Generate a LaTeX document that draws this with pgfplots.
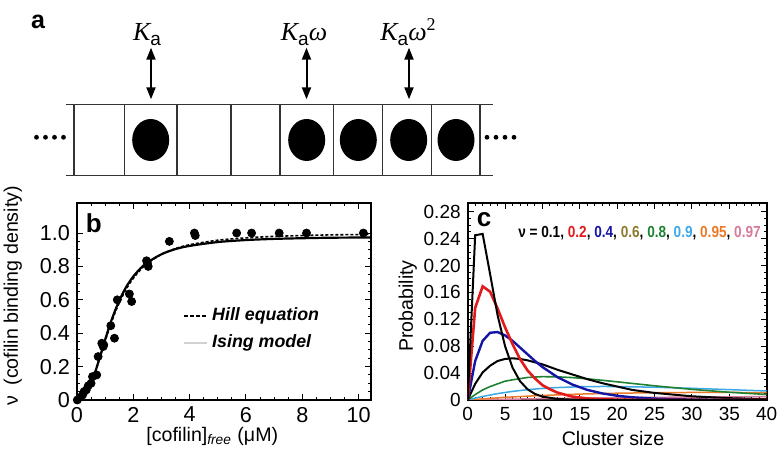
\documentclass[border=0pt]{standalone}
\usepackage{pgfplots}
\pgfplotsset{compat=1.18}
\usepackage{fontspec}
\setmainfont{Liberation Sans}
\newfontfamily\tnr{Liberation Serif}
\usetikzlibrary{arrows.meta}
\definecolor{cred}{HTML}{E31A1C}
\definecolor{cblue}{HTML}{1414A6}
\definecolor{colive}{HTML}{8C7A2E}
\definecolor{cgreen}{HTML}{1E8232}
\definecolor{ccyan}{HTML}{3CA8E6}
\definecolor{corange}{HTML}{EB7A28}
\definecolor{cpink}{HTML}{D77A9B}

\pgfplotsset{
  panel/.style={
    anchor=south west, scale only axis,
    tick align=inside, major tick length=3pt, minor tick length=1.5pt,
    tick style={black, line width=0.5pt},
    axis line style={line width=0.8pt},
    label style={font=\fontsize{9.8}{11}\selectfont},
  },
}

\begin{document}
\begin{tikzpicture}
\path[use as bounding box] (0,0) rectangle (391pt,229.5pt);

% panel a: lattice sketch (1 unit = 1 px of the reference)
\begin{scope}[x=0.5pt,y=0.5pt]
\node[font=\bfseries\fontsize{12.5}{14}\selectfont] at (38,437) {a};
\draw[line width=0.75pt, black!80] (65.7,354.7) -- (493.3,354.7);
\draw[line width=0.75pt, black!80] (65.7,283.3) -- (493.3,283.3);
\foreach \x in {74,124.3,177,231,280,333.3,382.3,431.7,480}
  \draw[line width=0.75pt, black!80] (\x,283.3) -- (\x,354.7);
\foreach \x in {150.7,306.7,358.3,408.7,456}
  \fill (\x,319) ellipse [x radius=18.5, y radius=21];
\foreach \x in {36.5,45.5,54.5,63.5,487,496,505,514}
  \fill (\x,321.7) circle [radius=2.4];
\foreach \x in {151,306.5,409}
  \draw[line width=1pt, {Triangle[length=6pt,width=4.5pt]}-{Triangle[length=6pt,width=4.5pt]}] (\x,359.7) -- (\x,411.3);
\node[anchor=base, font=\fontsize{13}{15}\selectfont] at (147,418)
  {{\tnr\itshape K}\raisebox{-0.3ex}{\fontsize{9.5}{10}\selectfont a}};
\node[anchor=base, font=\fontsize{13}{15}\selectfont] at (304,418)
  {{\tnr\itshape K}\raisebox{-0.3ex}{\fontsize{9.5}{10}\selectfont a}{\tnr\itshape ω}};
\node[anchor=base, font=\fontsize{13}{15}\selectfont] at (408,418)
  {{\tnr\itshape K}\raisebox{-0.3ex}{\fontsize{9.5}{10}\selectfont a}{\tnr\itshape ω}\raisebox{0.75ex}{\fontsize{9}{10}\selectfont\tnr 2}};
\end{scope}

% panel b
\begin{axis}[panel,
  at={(38.5pt,29.5pt)}, width=147pt, height=98.5pt,
  xmin=0, xmax=10.44, ymin=0, ymax=1.18,
  xtick={0,2,4,6,8,10}, xticklabels={0,2,4,6,8,10},
  ytick={0,0.2,0.4,0.6,0.8,1.0}, yticklabels={0,0.2,0.4,0.6,0.8,1.0},
  minor x tick num=3, minor y tick num=3,
  ticklabel style={font=\fontsize{10.8}{12}\selectfont},
  xlabel={[cofilin]\textsubscript{\itshape free} (μM)},
  ylabel={ν\enspace(cofilin binding density)},
  xlabel style={at={(axis description cs:0.46,-0.135)}, anchor=north, inner sep=0pt},
  ylabel style={at={(axis description cs:-0.218,0.53)}, anchor=center, inner sep=0pt},
  legend style={at={(axis description cs:0.36,0.49)}, anchor=north west,
    draw=none, fill=none, inner sep=0pt, row sep=1.5pt,
    font=\bfseries\itshape\fontsize{8.9}{10}\selectfont,
    /tikz/every even column/.append style={column sep=3pt}},
  legend cell align=left,
  legend image code/.code={\draw[#1] (0pt,0pt) -- (11.5pt,0pt);},
]
\addlegendimage{black, dash pattern=on 2pt off 1pt, line width=0.8pt}
\addlegendentry{Hill equation}
\addlegendimage{black!18, line width=1pt}
\addlegendentry{Ising model}

% Ising model fit
\addplot[black, line width=1.1pt, smooth, forget plot] coordinates {
  (0,0) (0.2,0.012) (0.4,0.060) (0.6,0.144) (0.8,0.250) (1.0,0.362)
  (1.2,0.466) (1.4,0.556) (1.6,0.631) (1.8,0.692) (2.0,0.740)
  (2.25,0.788) (2.5,0.824) (3.0,0.873) (3.5,0.904) (4.0,0.923)
  (5.0,0.946) (6.0,0.958) (7.0,0.965) (8.0,0.969) (9.0,0.972)
  (10.0,0.973) (10.44,0.974)
};
% Hill equation fit
\addplot[black, dash pattern=on 1.5pt off 1pt, line width=0.8pt, smooth, forget plot] coordinates {
  (0,0) (0.2,0.013) (0.4,0.062) (0.6,0.145) (0.8,0.247) (1.0,0.354)
  (1.2,0.454) (1.4,0.543) (1.6,0.617) (1.8,0.679) (2.0,0.729)
  (2.25,0.779) (2.5,0.818) (3.0,0.873) (3.5,0.907) (4.0,0.930)
  (5.0,0.957) (6.0,0.971) (7.0,0.980) (8.0,0.985) (9.0,0.989)
  (10.0,0.991) (10.44,0.992)
};
% measured binding density
\addplot[only marks, mark=*, mark size=2pt, black, forget plot] coordinates {
  (0.01,0.0) (0.1,0.015) (0.2,0.03) (0.25,0.05) (0.33,0.06) (0.4,0.085)
  (0.5,0.10) (0.55,0.14) (0.7,0.15) (0.75,0.26) (0.88,0.34) (0.93,0.32)
  (0.95,0.33) (1.2,0.445) (1.33,0.37) (1.43,0.60) (1.86,0.635) (1.94,0.59)
  (2.47,0.834) (2.5,0.82) (2.53,0.80) (3.28,0.95) (4.17,1.0) (4.2,0.985)
  (5.67,1.0) (6.2,1.0) (7.18,1.0) (8.15,1.0) (10.17,1.0)
};
\node[font=\bfseries\fontsize{13}{14}\selectfont] at (axis description cs:0.057,0.898) {b};
\end{axis}

% panel c
\begin{axis}[panel,
  at={(233.85pt,29.5pt)}, width=149.5pt, height=98.35pt,
  xmin=0, xmax=40, ymin=0, ymax=0.2925,
  xtick={0,5,10,15,20,25,30,35,40}, xticklabels={0,5,10,15,20,25,30,35,40},
  ytick={0,0.04,0.08,0.12,0.16,0.20,0.24,0.28},
  yticklabels={0,0.04,0.08,0.12,0.16,0.20,0.24,0.28},
  minor x tick num=4, minor y tick num=3,
  ticklabel style={font=\fontsize{9.5}{10}\selectfont},
  xlabel={Cluster size}, ylabel={Probability},
  xlabel style={at={(axis description cs:0.486,-0.155)}, anchor=north, inner sep=0pt},
  ylabel style={at={(axis description cs:-0.2,0.478)}, anchor=center, inner sep=0pt},
]
\addplot[cpink, line width=0.75pt] coordinates {
  (0,0) (5,0.0011) (10,0.0020) (20,0.0034) (30,0.0044) (40,0.0050)
};
\addplot[corange, line width=0.75pt] coordinates {
  (0,0) (1,0.0009) (5,0.0040) (10,0.0068) (15,0.0088) (20,0.0101)
  (25,0.0108) (30,0.0112) (35,0.0112) (40,0.0110)
};
\addplot[ccyan, line width=0.75pt] coordinates {
  (0,0) (1,0.0028) (2,0.0053) (4,0.0095) (6,0.0128) (8,0.0153) (10,0.0172)
  (12,0.0185) (15,0.0197) (18,0.0201) (20,0.0200) (25,0.0190) (30,0.0174)
  (35,0.0154) (40,0.0134)
};
\addplot[cgreen, line width=0.8pt] coordinates {
  (0,0) (1,0.008) (2,0.015) (3,0.020) (4,0.024) (5,0.028) (6,0.030)
  (8,0.0335) (10,0.0347) (12,0.0344) (14,0.0333) (16,0.0315) (18,0.0293)
  (20,0.0270) (25,0.0211) (30,0.0158) (35,0.0115) (40,0.0082)
};
\addplot[black, line width=1pt] coordinates {
  (0,0) (1,0.024) (2,0.041) (3,0.051) (4,0.058) (5,0.061) (6,0.062)
  (7,0.061) (8,0.059) (9,0.056) (10,0.053) (12,0.045) (14,0.038)
  (16,0.031) (18,0.025) (20,0.020) (22,0.015) (25,0.0105) (30,0.0055)
  (35,0.0027) (40,0.0013)
};
\addplot[cblue, line width=1.2pt] coordinates {
  (0,0) (1,0.058) (2,0.088) (3,0.100) (4,0.101) (5,0.096) (6,0.088)
  (7,0.078) (8,0.068) (9,0.058) (10,0.049) (12,0.034) (14,0.023)
  (16,0.015) (18,0.0098) (20,0.0063) (22,0.0040) (25,0.0020) (30,0.0006)
  (35,0.0002) (40,0)
};
\addplot[cred, line width=1.3pt] coordinates {
  (0,0) (1,0.137) (2,0.169) (3,0.161) (4,0.136) (5,0.108) (6,0.083)
  (7,0.061) (8,0.044) (9,0.032) (10,0.022) (11,0.016) (12,0.011)
  (14,0.005) (16,0.0023) (18,0.0011) (20,0.0005) (24,0.0001) (40,0)
};
\addplot[black, line width=1pt] coordinates {
  (0,0) (1,0.245) (2,0.247) (3,0.187) (4,0.126) (5,0.080) (6,0.048)
  (7,0.028) (8,0.016) (9,0.009) (10,0.005) (12,0.0016) (14,0.0005)
  (16,0) (40,0)
};
\node[font=\bfseries\fontsize{13}{14}\selectfont] at (axis description cs:0.055,0.915) {c};
\node[anchor=west, inner sep=0pt] at (axis description cs:0.168,0.849)
  {\scalebox{0.85}[1]{\bfseries\fontsize{8}{9}\selectfont ν = 0.1, \textcolor{cred}{0.2}, \textcolor{cblue}{0.4}, \textcolor{colive}{0.6}, \textcolor{cgreen}{0.8}, \textcolor{ccyan}{0.9}, \textcolor{corange}{0.95}, \textcolor{cpink}{0.97}}};
\end{axis}
\end{tikzpicture}
\end{document}
